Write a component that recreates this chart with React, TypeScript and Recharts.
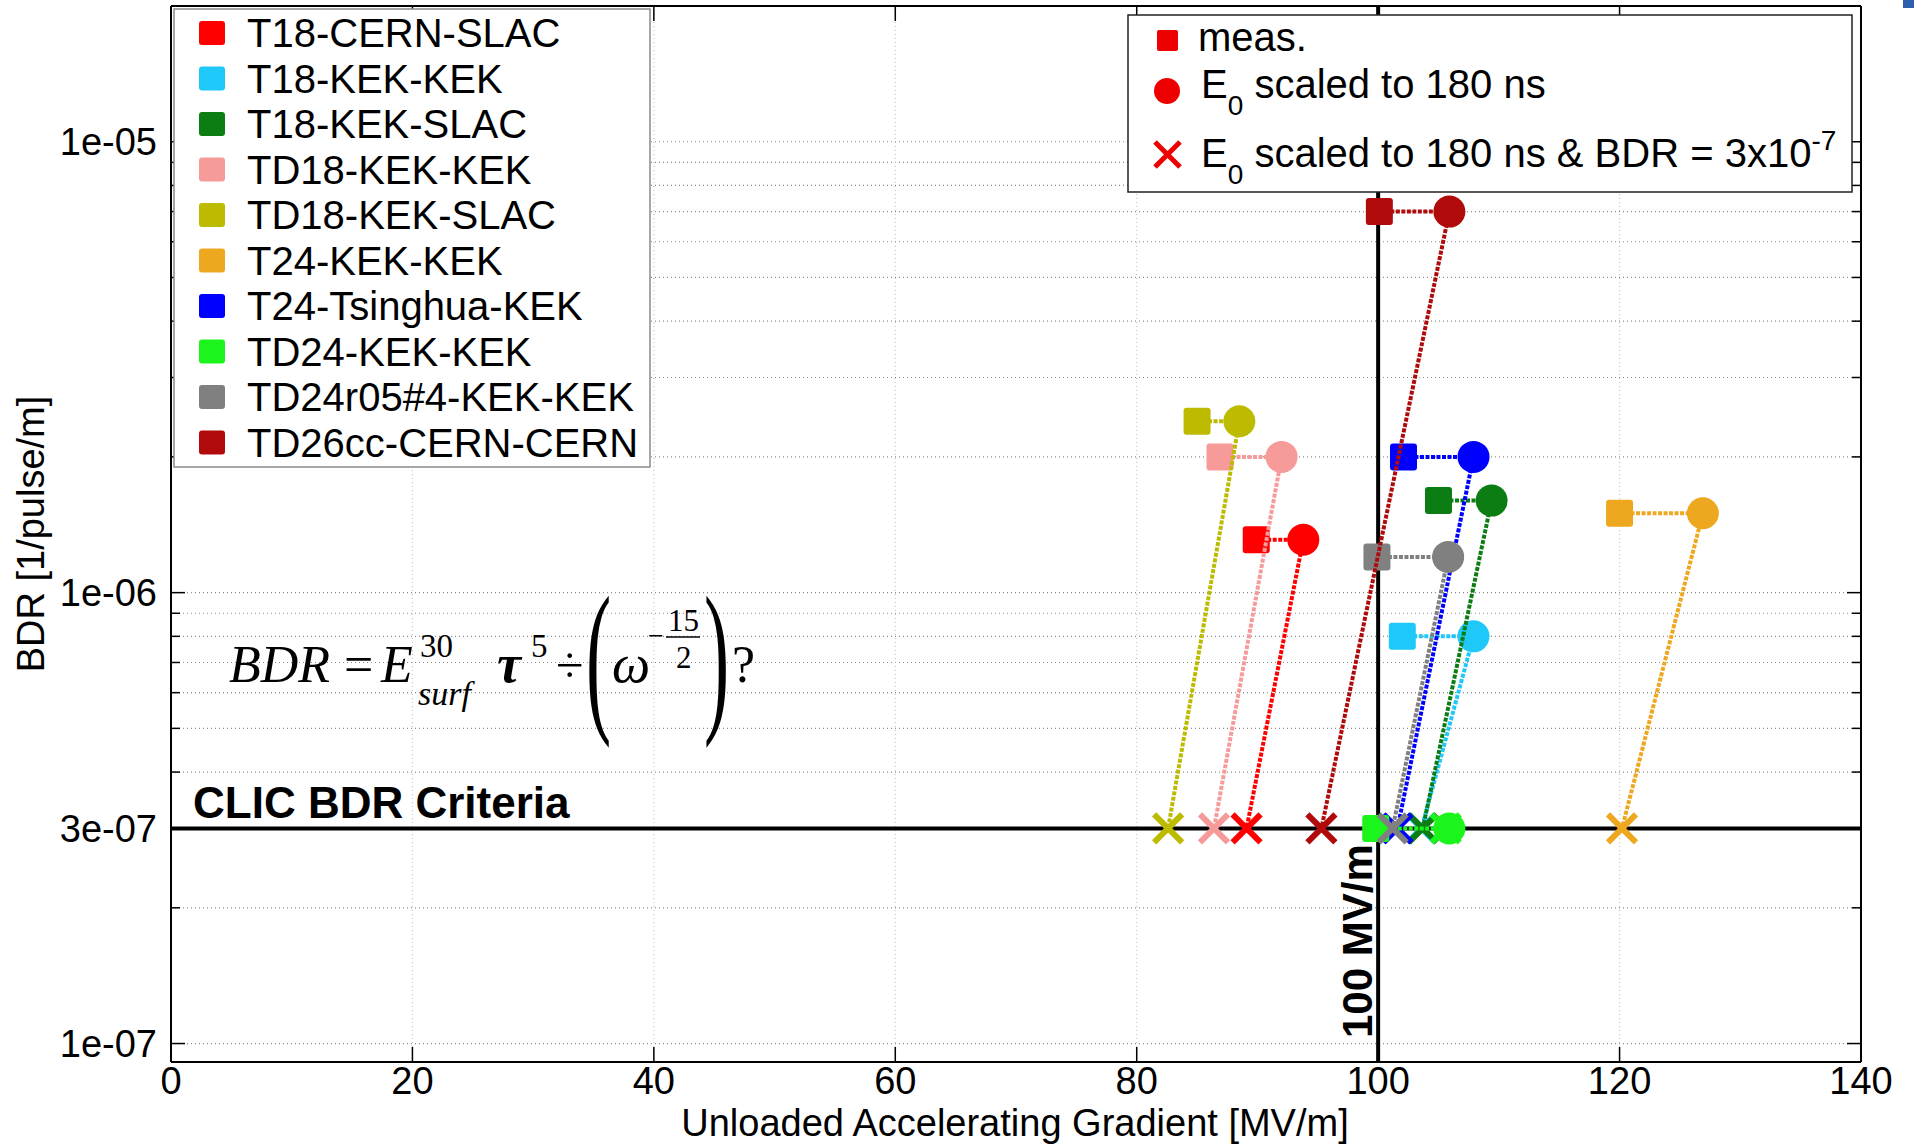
import React from 'react';
import { ComposedChart, Scatter, XAxis, YAxis, CartesianGrid, ReferenceLine } from 'recharts';

// ---------------- data ----------------
const seriesNames = [
  'T18-CERN-SLAC',
  'T18-KEK-KEK',
  'T18-KEK-SLAC',
  'TD18-KEK-KEK',
  'TD18-KEK-SLAC',
  'T24-KEK-KEK',
  'T24-Tsinghua-KEK',
  'TD24-KEK-KEK',
  'TD24r05#4-KEK-KEK',
  'TD26cc-CERN-CERN',
];
// measured gradient [MV/m] and measured BDR [1/pulse/m]
const measGradient = [89.9, 102.0, 105.0, 86.9, 85.0, 120.0, 102.1, 99.8, 99.9, 100.1];
const measBDR = [1.31e-6, 8.0e-7, 1.6e-6, 2.0e-6, 2.4e-6, 1.5e-6, 2.0e-6, 3.0e-7, 1.2e-6, 7.0e-6];
// E0 scaled to 180 ns (same BDR)
const scaledGradient = [93.8, 107.9, 109.4, 92.0, 88.5, 126.9, 107.9, 105.9, 105.8, 105.9];
// E0 scaled to 180 ns & BDR = 3e-7
const criteriaGradient = [89.1, 103.6, 103.7, 86.4, 82.6, 120.2, 101.6, 105.6, 101.2, 95.3];
const criteriaBDR = 3e-7;

const xTicks = [0, 20, 40, 60, 80, 100, 120, 140];
const yTicks = [
  1e-7, 2e-7, 3e-7, 4e-7, 5e-7, 6e-7, 7e-7, 8e-7, 9e-7,
  1e-6, 2e-6, 3e-6, 4e-6, 5e-6, 6e-6, 7e-6, 8e-6, 9e-6,
  1e-5,
];
const yLabelTicks = [1e-7, 3e-7, 1e-6, 1e-5];
const yLabelTexts = ['1e-07', '3e-07', '1e-06', '1e-05'];

// ---------------- styles ----------------
const colors = [
  '#ff0000', '#1ec8f8', '#0b7d12', '#f79a9a', '#bdbb00',
  '#eea820', '#0000ff', '#1cf51c', '#808080', '#b00a0a',
];
const SANS = 'Liberation Sans, Arial, Helvetica, sans-serif';
const SERIF = 'Liberation Serif, Times New Roman, serif';

const seriesData = seriesNames.map((_, i) => [
  { x: measGradient[i], y: measBDR[i], kind: 'meas' },
  { x: scaledGradient[i], y: measBDR[i], kind: 'scaled' },
  { x: criteriaGradient[i], y: criteriaBDR, kind: 'crit' },
]);

const Y_TM = 14;
const X_TM = 10;

const findLabel = (v: number) => yLabelTicks.findIndex((t) => Math.abs(t - v) / t < 1e-6);

const LeftTick = (p: any) => {
  const { x, y, payload } = p;
  const idx = findLabel(payload.value);
  const ax = x + Y_TM;
  return (
    <g>
      <line x1={ax} x2={ax + (idx >= 0 ? 14 : 9)} y1={y} y2={y} stroke="#000" strokeWidth={1.5} />
      {idx >= 0 && (
        <text x={x} y={y} dy="0.36em" textAnchor="end" fontSize={38} fontFamily={SANS} fill="#000">
          {yLabelTexts[idx]}
        </text>
      )}
    </g>
  );
};

const RightTick = (p: any) => {
  const { x, y, payload } = p;
  const idx = findLabel(payload.value);
  return <line x1={x} x2={x - (idx >= 0 ? 14 : 9)} y1={y} y2={y} stroke="#000" strokeWidth={1.5} />;
};

const BottomTick = (p: any) => {
  const { x, y, payload } = p;
  const ay = y - X_TM;
  return (
    <g>
      <line x1={x} x2={x} y1={ay} y2={ay - 15} stroke="#000" strokeWidth={1.5} />
      <text x={x} y={ay + 32} textAnchor="middle" fontSize={38} fontFamily={SANS} fill="#000">
        {payload.value}
      </text>
    </g>
  );
};

const TopTick = (p: any) => {
  const { x, y } = p;
  return <line x1={x} x2={x} y1={y} y2={y + 15} stroke="#000" strokeWidth={1.5} />;
};

const Marker = (p: any) => {
  const { cx, cy, payload, color } = p;
  if (cx == null || cy == null) return null;
  if (payload.kind === 'meas') {
    return <rect x={cx - 13.5} y={cy - 13.5} width={27} height={27} rx={3} fill={color} />;
  }
  if (payload.kind === 'scaled') {
    return <circle cx={cx} cy={cy} r={16} fill={color} />;
  }
  const s = 14;
  return (
    <path
      d={`M${cx - s},${cy - s}L${cx + s},${cy + s}M${cx - s},${cy + s}L${cx + s},${cy - s}`}
      stroke={color}
      strokeWidth={6}
      fill="none"
    />
  );
};

const Overlay = () => (
  <svg
    width={1914}
    height={1147}
    style={{ position: 'absolute', left: 0, top: 0, pointerEvents: 'none' }}
  >
    {/* series legend */}
    <rect x={174} y={9} width={476} height={458} fill="#fff" stroke="#8a8a8a" strokeWidth={1.5} />
    {seriesNames.map((n, i) => {
      const cy = 33 + i * 45.5;
      return (
        <g key={n}>
          <rect x={199} y={cy - 12} width={26} height={24} rx={3} fill={colors[i]} />
          <text x={247} y={cy + 14} fontSize={40} fontFamily={SANS} fill="#000">
            {n}
          </text>
        </g>
      );
    })}

    {/* marker legend */}
    <rect x={1128} y={15} width={724} height={177} fill="#fff" stroke="#222" strokeWidth={1.5} />
    <rect x={1157} y={30} width={21} height={21} rx={2} fill="#ee0000" />
    <text x={1198} y={51} fontSize={40} fontFamily={SANS} fill="#000">meas.</text>
    <circle cx={1167} cy={91} r={13} fill="#ee0000" />
    <text x={1201} y={98} fontSize={40} fontFamily={SANS} fill="#000">
      E<tspan dy={17} fontSize={28}>0</tspan>
      <tspan dy={-17}> scaled to 180 ns</tspan>
    </text>
    <path d="M1155,142L1180,167M1155,167L1180,142" stroke="#ee0000" strokeWidth={5} fill="none" />
    <text x={1201} y={167} fontSize={40} fontFamily={SANS} fill="#000">
      E<tspan dy={17} fontSize={28}>0</tspan>
      <tspan dy={-17}> scaled to 180 ns &amp; BDR = 3x10</tspan>
      <tspan dy={-17} fontSize={28}>-7</tspan>
    </text>

    {/* formula */}
    <g fontFamily={SERIF} fill="#000">
      <text x={229} y={682} fontSize={52} fontStyle="italic">BDR</text>
      <text x={344} y={682} fontSize={52}>=</text>
      <text x={381} y={682} fontSize={52} fontStyle="italic">E</text>
      <text x={420} y={657} fontSize={33}>30</text>
      <text x={418} y={705} fontSize={34} fontStyle="italic">surf</text>
      <text x={497} y={682} fontSize={54} fontStyle="italic" fontWeight="bold">τ</text>
      <text x={531} y={657} fontSize={33}>5</text>
      <text x={556} y={682} fontSize={50}>÷</text>
      <text transform="translate(586,712) scale(0.45,1)" fontSize={168}>(</text>
      <text x={612} y={682} fontSize={54} fontStyle="italic">ω</text>
      <text x={648} y={645} fontSize={28}>−</text>
      <text x={668} y={631} fontSize={31}>15</text>
      <line x1={666} x2={700} y1={637} y2={637} stroke="#000" strokeWidth={1.5} />
      <text x={676} y={668} fontSize={31}>2</text>
      <text transform="translate(704,712) scale(0.45,1)" fontSize={168}>)</text>
      <text x={732} y={682} fontSize={52}>?</text>
    </g>

    <text x={193} y={818} fontSize={44} fontWeight="bold" fontFamily={SANS} fill="#000">
      CLIC BDR Criteria
    </text>
    <text
      transform="translate(1372,1038) rotate(-90)"
      fontSize={42}
      fontWeight="bold"
      fontFamily={SANS}
      fill="#000"
    >
      100 MV/m
    </text>

    {/* axis titles */}
    <text x={1015} y={1136} textAnchor="middle" fontSize={38} fontFamily={SANS} fill="#000">
      Unloaded Accelerating Gradient [MV/m]
    </text>
    <text
      transform="translate(44,534) rotate(-90)"
      textAnchor="middle"
      fontSize={38}
      fontFamily={SANS}
      fill="#000"
    >
      BDR [1/pulse/m]
    </text>
  </svg>
);

export default function App() {
  return (
    <div
      style={{
        position: 'absolute',
        left: 0,
        top: 0,
        width: 1914,
        height: 1147,
        background: '#fff',
        overflow: 'hidden',
      }}
    >
      <ComposedChart
        width={1914}
        height={1147}
        margin={{ top: 5, right: 43, left: 51, bottom: 25 }}
      >
        <CartesianGrid vertical={false} stroke="#8c8c8c" strokeDasharray="1 3" strokeWidth={1.2} />
        <CartesianGrid horizontal={false} stroke="#c4c4c4" strokeDasharray="1 3" strokeWidth={1.2} />
        <XAxis
          dataKey="x"
          type="number"
          domain={[0, 140]}
          ticks={xTicks}
          interval={0}
          height={60}
          tickSize={0}
          tickMargin={X_TM}
          tick={(p: any) => <BottomTick {...p} />}
          axisLine={{ stroke: '#000', strokeWidth: 2 }}
          allowDataOverflow
        />
        <XAxis
          xAxisId="top"
          orientation="top"
          dataKey="x"
          type="number"
          domain={[0, 140]}
          ticks={xTicks}
          interval={0}
          height={1}
          tickSize={0}
          tickMargin={0}
          tick={(p: any) => <TopTick {...p} />}
          axisLine={{ stroke: '#000', strokeWidth: 2 }}
          allowDataOverflow
        />
        <YAxis
          dataKey="y"
          type="number"
          scale="log"
          domain={[9.1e-8, 2e-5]}
          ticks={yTicks}
          interval={0}
          width={120}
          tickSize={0}
          tickMargin={Y_TM}
          tick={(p: any) => <LeftTick {...p} />}
          axisLine={{ stroke: '#000', strokeWidth: 2 }}
          allowDataOverflow
        />
        <YAxis
          yAxisId="right"
          orientation="right"
          dataKey="y"
          type="number"
          scale="log"
          domain={[9.1e-8, 2e-5]}
          ticks={yTicks}
          interval={0}
          width={10}
          tickSize={0}
          tickMargin={0}
          tick={(p: any) => <RightTick {...p} />}
          axisLine={{ stroke: '#000', strokeWidth: 2 }}
          allowDataOverflow
        />
        <ReferenceLine x={100} stroke="#000" strokeWidth={4} />
        <ReferenceLine y={criteriaBDR} stroke="#000" strokeWidth={4} />
        {seriesNames.map((name, i) => (
          <Scatter
            key={name}
            name={name}
            data={seriesData[i]}
            fill={colors[i]}
            line={{ stroke: colors[i], strokeWidth: 4, strokeDasharray: '4 1.5' }}
            lineType="joint"
            shape={(p: any) => <Marker {...p} color={colors[i]} />}
            isAnimationActive={false}
          />
        ))}
      </ComposedChart>
      <Overlay />
      <div
        style={{ position: 'absolute', left: 1903, top: 0, width: 11, height: 8, background: '#2d5fae' }}
      />
    </div>
  );
}
